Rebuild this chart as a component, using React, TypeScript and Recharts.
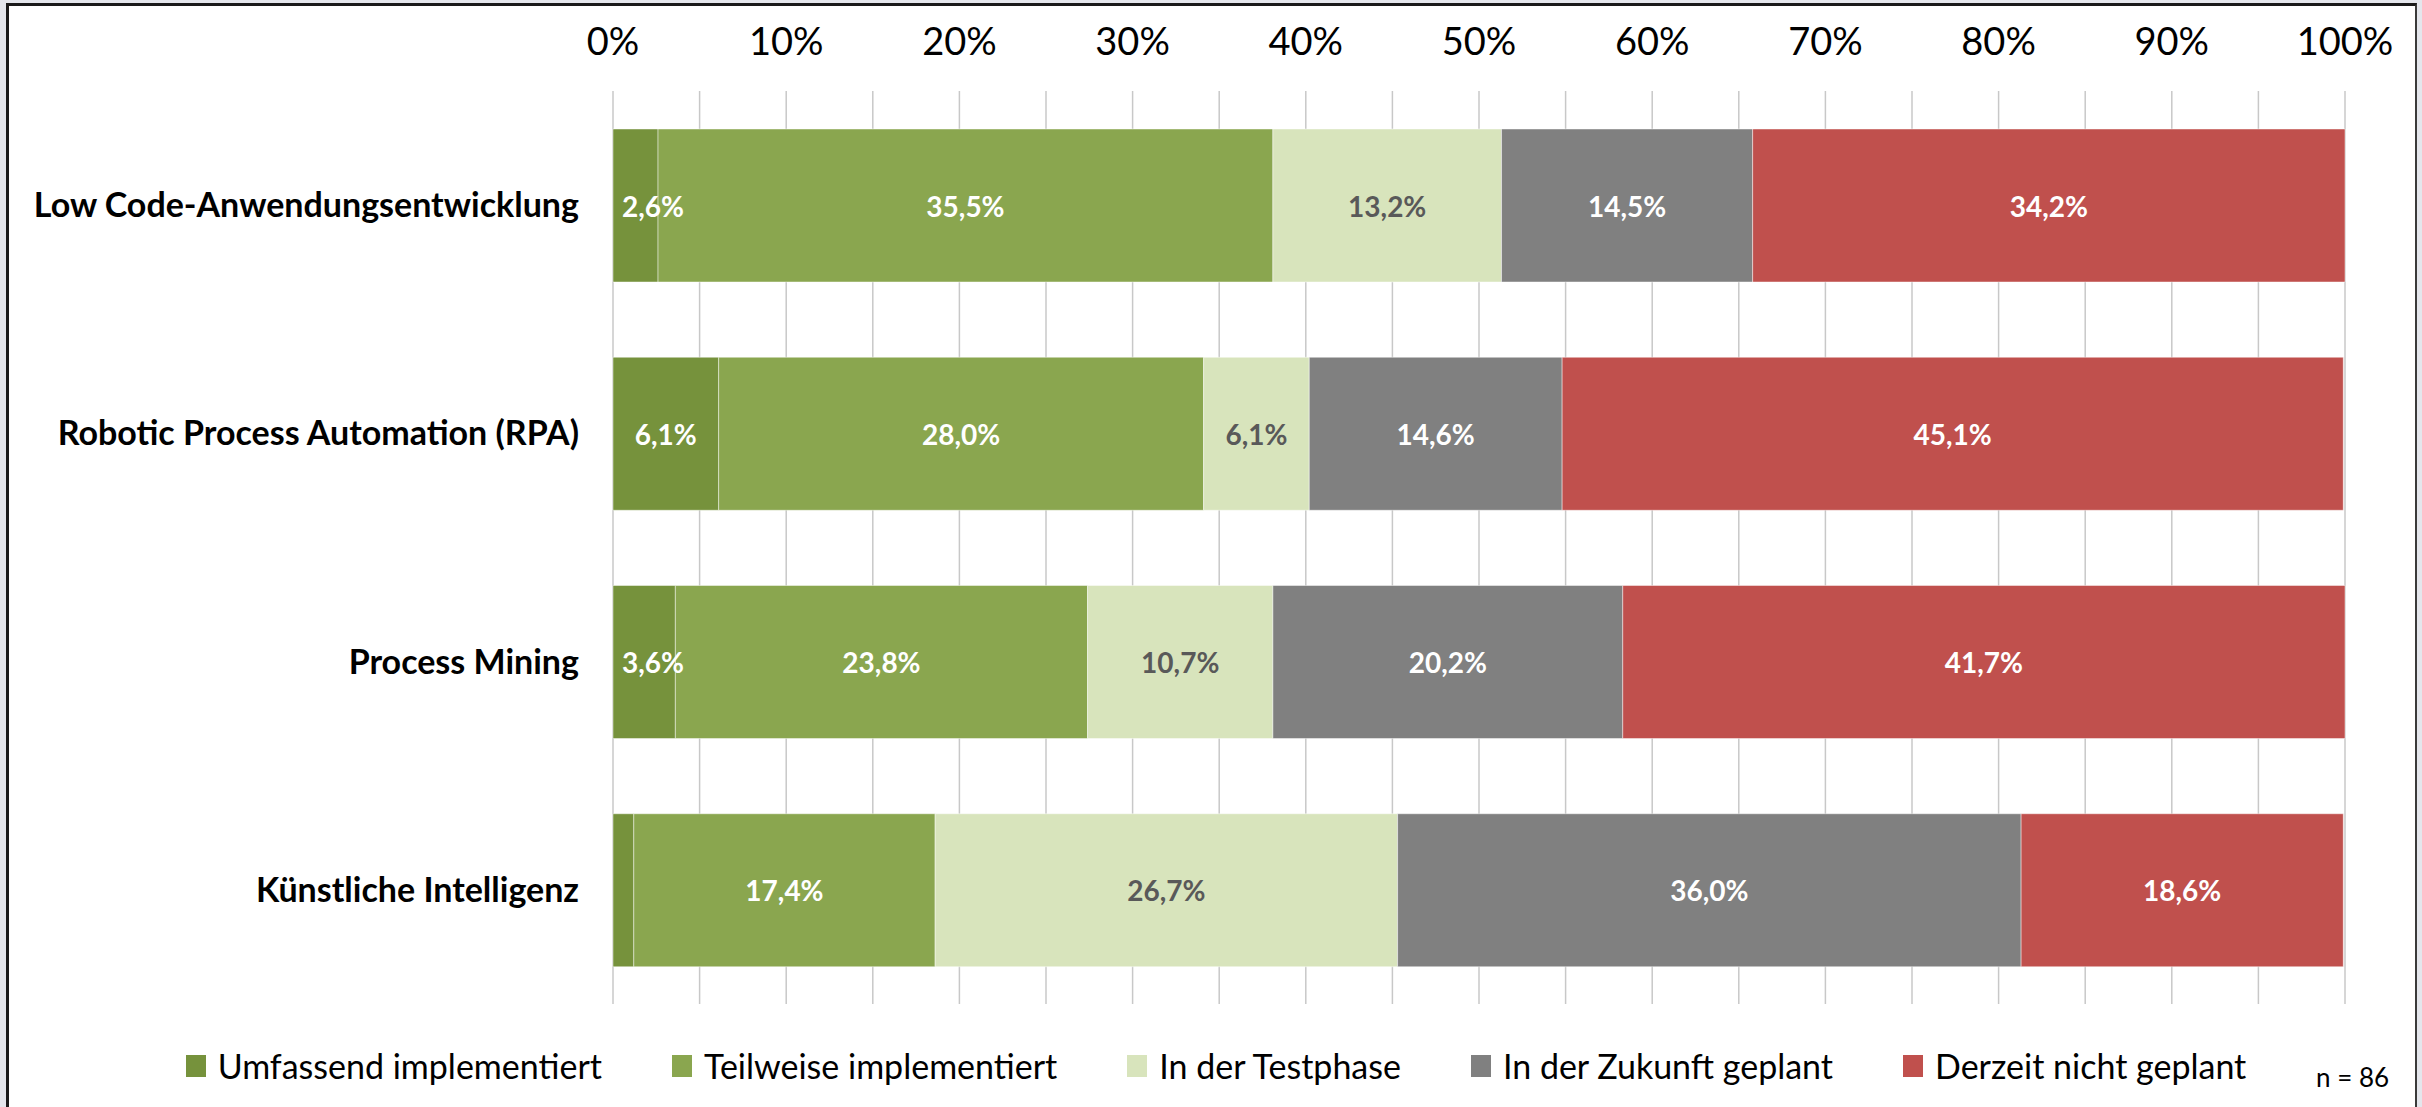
import { Bar, BarChart, CartesianGrid, LabelList, XAxis, YAxis } from "recharts"

const categories = [
  "Low Code-Anwendungsentwicklung",
  "Robotic Process Automation (RPA)",
  "Process Mining",
  "Künstliche Intelligenz",
]

const umfassend = [2.6, 6.1, 3.6, 1.2]
const teilweise = [35.5, 28.0, 23.8, 17.4]
const testphase = [13.2, 6.1, 10.7, 26.7]
const zukunft = [14.5, 14.6, 20.2, 36.0]
const nichtGeplant = [34.2, 45.1, 41.7, 18.6]

const xTicks = [0, 5, 10, 15, 20, 25, 30, 35, 40, 45, 50, 55, 60, 65, 70, 75, 80, 85, 90, 95, 100]

const series = [
  { key: "umfassend", name: "Umfassend implementiert", values: umfassend, color: "#76923C", label: "#ffffff" },
  { key: "teilweise", name: "Teilweise implementiert", values: teilweise, color: "#8AA64F", label: "#ffffff" },
  { key: "testphase", name: "In der Testphase", values: testphase, color: "#D8E4BC", label: "#595959" },
  { key: "zukunft", name: "In der Zukunft geplant", values: zukunft, color: "#808080", label: "#ffffff" },
  { key: "nichtGeplant", name: "Derzeit nicht geplant", values: nichtGeplant, color: "#C0504D", label: "#ffffff" },
]

const data = categories.map((name, i) => {
  const row: Record<string, string | number> = { name }
  series.forEach((s) => {
    row[s.key] = s.values[i]
  })
  return row
})

const FONT = "Lato, 'Open Sans', sans-serif"

const formatPct = (v: number) => `${v.toFixed(1).replace(".", ",")}%`

function SegmentLabel(props: any) {
  const { x, y, width, height, value, color } = props
  if (value == null || Number(value) < 2) return null
  // small segments: keep the label starting inside the bar, like Excel does
  const cx = Math.max(Number(x) + Number(width) / 2, Number(x) + 40)
  return (
    <text
      x={cx}
      y={Number(y) + Number(height) / 2}
      textAnchor="middle"
      dominantBaseline="central"
      fill={color}
      fontSize={28}
      fontWeight={700}
      fontFamily={FONT}
    >
      {formatPct(Number(value))}
    </text>
  )
}

export default function App() {
  return (
    <div
      style={{
        position: "absolute",
        left: 0,
        top: 0,
        width: 2422,
        height: 1107,
        background: "#e4e6ec",
        overflow: "hidden",
        fontFamily: FONT,
      }}
    >
      <div
        style={{
          position: "absolute",
          left: 6,
          top: 3,
          width: 2406,
          height: 1120,
          background: "#ffffff",
          borderLeft: "3px solid #1a1a1a",
          borderTop: "3px solid #1a1a1a",
          borderRight: "2px solid #3a3a3a",
        }}
      />
      <div style={{ position: "absolute", left: 0, top: 0 }}>
        <BarChart
          width={2422}
          height={1030}
          data={data}
          layout="vertical"
          margin={{ top: 4, right: 77, bottom: 26, left: 10 }}
        >
          <CartesianGrid vertical horizontal={false} stroke="#c8c8c8" strokeWidth={1.5} />
          <XAxis
            type="number"
            orientation="top"
            domain={[0, 100]}
            ticks={xTicks}
            interval={0}
            height={87}
            axisLine={false}
            tickLine={false}
            tickMargin={30}
            tickFormatter={(v) => (v % 10 === 0 ? `${v}%` : "")}
            tick={{ fill: "#000000", fontSize: 38, fontFamily: FONT }}
          />
          <YAxis
            type="category"
            dataKey="name"
            width={603}
            axisLine={false}
            tickLine={false}
            tickMargin={28}
            tick={{ fill: "#000000", fontSize: 34, fontWeight: 700, fontFamily: FONT }}
          />
          {series.map((s) => (
            <Bar
              key={s.key}
              dataKey={s.key}
              name={s.name}
              stackId="a"
              fill={s.color}
              stroke="#ffffff"
              strokeOpacity={0.45}
              strokeWidth={1}
              barSize={153}
              isAnimationActive={false}
            >
              <LabelList dataKey={s.key} content={(p: any) => <SegmentLabel {...p} color={s.label} />} />
            </Bar>
          ))}
        </BarChart>
      </div>
      <div
        style={{
          position: "absolute",
          left: 0,
          top: 1046,
          width: 2432,
          display: "flex",
          justifyContent: "center",
          gap: 70,
          fontSize: 34,
          lineHeight: "40px",
          color: "#000000",
        }}
      >
        {series.map((s) => (
          <div key={s.key} style={{ display: "flex", alignItems: "center" }}>
            <span style={{ width: 20, height: 22, background: s.color, marginRight: 12, display: "inline-block" }} />
            <span>{s.name}</span>
          </div>
        ))}
      </div>
      <div style={{ position: "absolute", left: 2316, top: 1062, fontSize: 26, lineHeight: "30px", color: "#000000" }}>
        n = 86
      </div>
    </div>
  )
}
